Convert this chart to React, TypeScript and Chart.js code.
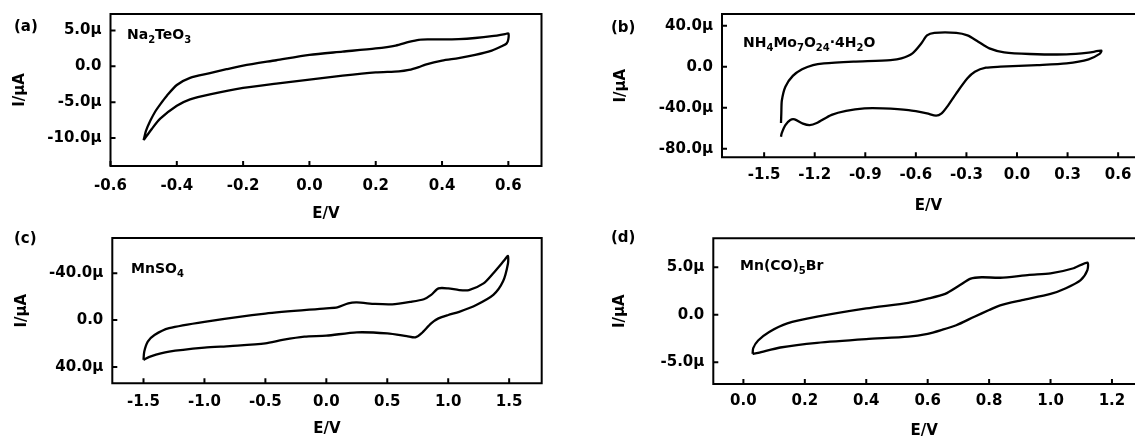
import React, { useEffect, useRef } from "react";
import { Chart, registerables } from "chart.js";

Chart.register(...registerables);

// ---------- Panel (a): Na2TeO3 ----------
const aE = [-0.5, -0.493, -0.48, -0.465, -0.45, -0.43, -0.4, -0.36, -0.3, -0.25, -0.2, -0.1, 0.0, 0.1, 0.2, 0.26, 0.3, 0.33, 0.36, 0.4, 0.45, 0.5, 0.55, 0.59, 0.6,
  0.6, 0.595, 0.575, 0.55, 0.5, 0.45, 0.4, 0.35, 0.33, 0.3, 0.27, 0.2, 0.1, 0.0, -0.1, -0.2, -0.3, -0.36, -0.4, -0.45, -0.475, -0.5];
const aI = [-10.3, -9.0, -7.6, -6.3, -5.3, -4.1, -2.6, -1.6, -0.95, -0.4, 0.1, 0.85, 1.6, 2.05, 2.5, 2.9, 3.4, 3.7, 3.75, 3.75, 3.8, 3.95, 4.2, 4.5, 4.6,
  3.8, 3.2, 2.7, 2.2, 1.6, 1.15, 0.8, 0.25, -0.1, -0.5, -0.7, -0.85, -1.3, -1.85, -2.4, -3.0, -3.9, -4.6, -5.5, -7.3, -8.7, -10.3];
const aXTicks = [-0.6, -0.4, -0.2, 0.0, 0.2, 0.4, 0.6];
const aXLabels = ["-0.6", "-0.4", "-0.2", "0.0", "0.2", "0.4", "0.6"];
const aYTicks = [-10, -5, 0, 5];
const aYLabels = ["-10.0μ", "-5.0μ", "0.0", "5.0μ"];

// ---------- Panel (b): NH4Mo7O24·4H2O ----------
const bE = [-1.4, -1.398, -1.395, -1.374, -1.33, -1.275, -1.21, -1.145, -0.97, -0.75, -0.686, -0.62, -0.567, -0.534, -0.49, -0.36, -0.294, -0.23, -0.164, -0.076, 0.076, 0.294, 0.425, 0.5,
  0.49, 0.425, 0.294, 0.12, -0.098, -0.185, -0.25, -0.294, -0.36, -0.414, -0.447, -0.48, -0.534, -0.643, -0.796, -0.905, -1.014, -1.1, -1.188, -1.23, -1.27, -1.319, -1.345, -1.374, -1.396, -1.4];
const bI = [-55, -45, -33, -19.5, -9, -2.6, 1.6, 3.2, 4.9, 6.5, 8.1, 13, 22.8, 30.5, 33, 33, 30.5, 24.4, 17.9, 14, 12.4, 12, 13.7, 15.6,
  12.5, 7.2, 3.3, 1.6, 0, -1, -4.9, -11.4, -26, -39, -45.5, -47.8, -45.5, -42.3, -40.7, -40.7, -43, -47, -55, -57, -55.5, -51.4, -52, -57, -65, -68.3];
const bXTicks = [-1.5, -1.2, -0.9, -0.6, -0.3, 0.0, 0.3, 0.6];
const bXLabels = ["-1.5", "-1.2", "-0.9", "-0.6", "-0.3", "0.0", "0.3", "0.6"];
const bYTicks = [-80, -40, 0, 40];
const bYLabels = ["-80.0μ", "-40.0μ", "0.0", "40.0μ"];

// ---------- Panel (c): MnSO4 ----------
const cE = [-1.5, -1.494, -1.465, -1.41, -1.29, -1.0, -0.5, 0.0, 0.09, 0.18, 0.25, 0.4, 0.54, 0.69, 0.8, 0.86, 0.92, 1.0, 1.09, 1.17, 1.29, 1.37, 1.46, 1.49,
  1.49, 1.45, 1.37, 1.23, 1.09, 1.0, 0.92, 0.86, 0.78, 0.73, 0.66, 0.5, 0.25, 0.0, -0.18, -0.36, -0.5, -0.79, -1.0, -1.29, -1.44, -1.5];
const cI = [34, 27, 18.5, 12.8, 7, 1.5, -5.5, -10, -10.8, -14.2, -15, -13.7, -13.4, -15.5, -17.7, -21.4, -27, -27, -25.6, -25.6, -31.3, -40, -51, -54.7,
  -48, -33, -21.4, -12.8, -7, -4.3, -1.4, 2.8, 11.4, 14.8, 13.7, 11.4, 10.5, 13.4, 14.2, 17, 19.9, 22.2, 23.6, 27, 31, 34];
const cXTicks = [-1.5, -1.0, -0.5, 0.0, 0.5, 1.0, 1.5];
const cXLabels = ["-1.5", "-1.0", "-0.5", "0.0", "0.5", "1.0", "1.5"];
const cYTicks = [-40, 0, 40];
const cYLabels = ["-40.0μ", "0.0", "40.0μ"];

// ---------- Panel (d): Mn(CO)5Br ----------
const dE = [0.03, 0.032, 0.048, 0.084, 0.143, 0.24, 0.4, 0.537, 0.6, 0.657, 0.704, 0.74, 0.776, 0.836, 0.931, 1.0, 1.075, 1.12,
  1.12, 1.098, 1.05, 1.0, 0.907, 0.836, 0.8, 0.752, 0.693, 0.645, 0.6, 0.537, 0.4, 0.24, 0.12, 0.048, 0.03];
const dI = [-4.1, -3.5, -2.7, -1.8, -0.9, -0.2, 0.67, 1.26, 1.7, 2.2, 3.1, 3.8, 3.95, 3.9, 4.2, 4.35, 4.9, 5.5,
  4.7, 3.65, 2.8, 2.2, 1.54, 1.0, 0.5, -0.2, -1.1, -1.6, -2.0, -2.3, -2.56, -2.95, -3.44, -4.0, -4.1];
const dXTicks = [0.0, 0.2, 0.4, 0.6, 0.8, 1.0, 1.2];
const dXLabels = ["0.0", "0.2", "0.4", "0.6", "0.8", "1.0", "1.2"];
const dYTicks = [-5, 0, 5];
const dYLabels = ["-5.0μ", "0.0", "5.0μ"];

const FONT = '"DejaVu Sans", "Liberation Sans", sans-serif';

type Piece = [string, boolean];

interface PanelCfg {
  left: number; top: number; W: number; H: number;
  L: number; R: number; T: number; B: number;
  xMin: number; xMax: number; yMin: number; yMax: number; reverse?: boolean;
  E: number[]; I: number[];
  xTicks: number[]; xLabels: string[]; yTicks: number[]; yLabels: string[];
  closedRight: boolean;
  letter: string; letterX: number; letterY: number;
  compound: Piece[]; compX: number; compY: number;
  xTickPad: number; xTitlePad: number; yTitlePad: number;
}

const panels: PanelCfg[] = [
  {
    left: 0, top: 0, W: 560, H: 225, L: 110.5, R: 541.5, T: 14, B: 166,
    xMin: -0.6, xMax: 0.7, yMin: -13.9, yMax: 7.3,
    E: aE, I: aI, xTicks: aXTicks, xLabels: aXLabels, yTicks: aYTicks, yLabels: aYLabels,
    closedRight: true, letter: "(a)", letterX: 14, letterY: 27,
    compound: [["Na", false], ["2", true], ["TeO", false], ["3", true]], compX: 127, compY: 39,
    xTickPad: 11, xTitlePad: 2, yTitlePad: 11,
  },
  {
    left: 575, top: 0, W: 560, H: 225, L: 722, R: 1135, T: 14, B: 157.3,
    xMin: -1.75, xMax: 0.7, yMin: -88.4, yMax: 51.4,
    E: bE, I: bI, xTicks: bXTicks, xLabels: bXLabels, yTicks: bYTicks, yLabels: bYLabels,
    closedRight: false, letter: "(b)", letterX: 611, letterY: 28,
    compound: [["NH", false], ["4", true], ["Mo", false], ["7", true], ["O", false], ["24", true], ["·4H", false], ["2", true], ["O", false]], compX: 743, compY: 47,
    xTickPad: 9, xTitlePad: 10, yTitlePad: 37,
  },
  {
    left: 0, top: 225, W: 560, H: 216, L: 112.3, R: 541.7, T: 238, B: 383.3,
    xMin: -1.756, xMax: 1.767, yMin: -70, yMax: 54, reverse: true,
    E: cE, I: cI, xTicks: cXTicks, xLabels: cXLabels, yTicks: cYTicks, yLabels: cYLabels,
    closedRight: true, letter: "(c)", letterX: 14, letterY: 239,
    compound: [["MnSO", false], ["4", true]], compX: 131, compY: 273,
    xTickPad: 10, xTitlePad: 3, yTitlePad: 13,
  },
  {
    left: 575, top: 225, W: 560, H: 216, L: 713.3, R: 1135, T: 238.3, B: 384,
    xMin: -0.098, xMax: 1.275, yMin: -7.28, yMax: 8.05,
    E: dE, I: dI, xTicks: dXTicks, xLabels: dXLabels, yTicks: dYTicks, yLabels: dYLabels,
    closedRight: false, letter: "(d)", letterX: 611, letterY: 238.5,
    compound: [["Mn(CO)", false], ["5", true], ["Br", false]], compX: 740, compY: 270,
    xTickPad: 8, xTitlePad: 1, yTitlePad: 36,
  },
];

function Panel({ cfg }: { cfg: PanelCfg }) {
  const ref = useRef<HTMLCanvasElement>(null);
  useEffect(() => {
    const canvas = ref.current!;
    const tickFont = { family: FONT, size: 15, weight: "bold" as const };
    const framePlugin = {
      id: "frame",
      afterDraw(chart: any) {
        const { ctx, chartArea: a, scales } = chart;
        ctx.save();
        ctx.strokeStyle = "#000";
        ctx.lineWidth = 2;
        ctx.lineCap = "butt";
        ctx.beginPath();
        if (cfg.closedRight) {
          ctx.rect(a.left, a.top, a.right - a.left, a.bottom - a.top);
        } else {
          ctx.moveTo(chart.width, a.top);
          ctx.lineTo(a.left, a.top);
          ctx.lineTo(a.left, a.bottom);
          ctx.lineTo(chart.width, a.bottom);
        }
        ctx.stroke();
        ctx.beginPath();
        for (const v of cfg.xTicks) {
          const px = scales.x.getPixelForValue(v);
          ctx.moveTo(px, a.bottom);
          ctx.lineTo(px, a.bottom - 5);
        }
        for (const v of cfg.yTicks) {
          const py = scales.y.getPixelForValue(v);
          ctx.moveTo(a.left, py);
          ctx.lineTo(a.left + 5, py);
        }
        ctx.stroke();
        // panel letter
        ctx.fillStyle = "#000";
        ctx.textBaseline = "middle";
        ctx.textAlign = "left";
        ctx.font = `bold 15px ${FONT}`;
        ctx.fillText(cfg.letter, cfg.letterX - cfg.left, cfg.letterY - cfg.top);
        // compound label with subscripts
        ctx.textBaseline = "alphabetic";
        let x = cfg.compX - cfg.left;
        const y = cfg.compY - cfg.top;
        for (const [t, sub] of cfg.compound) {
          ctx.font = sub ? `bold 10px ${FONT}` : `bold 14px ${FONT}`;
          ctx.fillText(t, x, sub ? y + 4 : y);
          x += ctx.measureText(t).width;
        }
        ctx.restore();
      },
    };
    const chart = new Chart(canvas, {
      type: "scatter",
      data: {
        datasets: [
          {
            data: cfg.E.map((e, i) => ({ x: e, y: cfg.I[i] })),
            showLine: true,
            borderColor: "#000",
            borderWidth: 2.3,
            pointRadius: 0,
            tension: 0.25,
            fill: false,
          },
        ],
      },
      options: {
        animation: false,
        responsive: false,
        devicePixelRatio: 1,
        layout: {
          padding: { left: 0, top: cfg.T - cfg.top, right: cfg.left + cfg.W - cfg.R, bottom: 0 },
        },
        plugins: { legend: { display: false }, tooltip: { enabled: false } },
        scales: {
          x: {
            type: "linear",
            min: cfg.xMin,
            max: cfg.xMax,
            afterBuildTicks: (s: any) => { s.ticks = cfg.xTicks.map((v) => ({ value: v })); },
            afterFit: (s: any) => {
              s.height = cfg.top + cfg.H - cfg.B;
              s.paddingLeft = 0; s.paddingRight = 0; s.paddingTop = 0; s.paddingBottom = 0;
            },
            grid: { display: false, drawTicks: false },
            border: { display: false },
            ticks: {
              color: "#000", font: tickFont, padding: cfg.xTickPad, maxRotation: 0, autoSkip: false,
              callback: (v: any) => { const i = cfg.xTicks.indexOf(Number(v)); return i >= 0 ? cfg.xLabels[i] : ""; },
            },
            title: { display: true, text: "E/V", color: "#000", font: tickFont, padding: { top: 0, bottom: cfg.xTitlePad } },
          },
          y: {
            type: "linear",
            min: cfg.yMin,
            max: cfg.yMax,
            reverse: !!cfg.reverse,
            afterBuildTicks: (s: any) => { s.ticks = cfg.yTicks.map((v) => ({ value: v })); },
            afterFit: (s: any) => {
              s.width = cfg.L - cfg.left;
              s.paddingLeft = 0; s.paddingRight = 0; s.paddingTop = 0; s.paddingBottom = 0;
            },
            grid: { display: false, drawTicks: false },
            border: { display: false },
            ticks: {
              color: "#000", font: tickFont, padding: 9, autoSkip: false,
              callback: (v: any) => { const i = cfg.yTicks.indexOf(Number(v)); return i >= 0 ? cfg.yLabels[i] : ""; },
            },
            title: { display: true, text: "I/μA", color: "#000", font: tickFont, padding: { top: cfg.yTitlePad, bottom: 0 } },
          },
        },
      },
      plugins: [framePlugin],
    });
    return () => chart.destroy();
  }, [cfg]);
  return (
    <canvas
      ref={ref}
      width={cfg.W}
      height={cfg.H}
      style={{ position: "absolute", left: cfg.left, top: cfg.top, width: cfg.W, height: cfg.H }}
    />
  );
}

export default function App() {
  return (
    <div style={{ position: "absolute", left: 0, top: 0, width: 1135, height: 441, background: "#fff", overflow: "hidden" }}>
      {panels.map((p, i) => (
        <Panel key={i} cfg={p} />
      ))}
    </div>
  );
}
